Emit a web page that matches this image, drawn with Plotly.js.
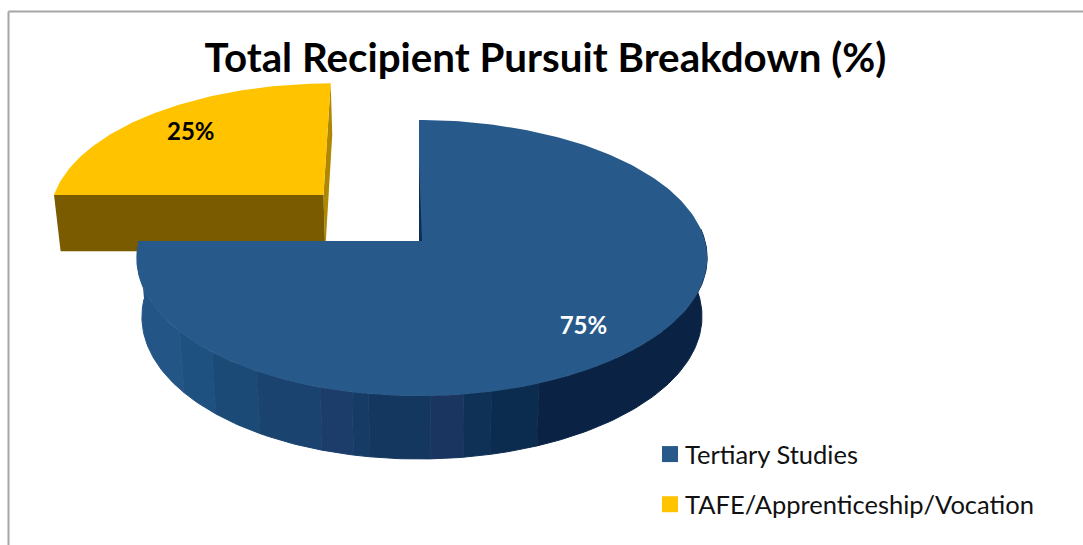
<!DOCTYPE html>
<html><head><meta charset="utf-8">
<script src="https://cdn.plot.ly/plotly-3.0.1.min.js"></script>
<style>html,body{margin:0;padding:0;background:#fff;overflow:hidden}#c{width:1083px;height:545px}</style>
</head><body><div id="c"></div>
<script>
const chartTitle = 'Total Recipient Pursuit Breakdown (%)';
const categories = ['Tertiary Studies', 'TAFE/Apprenticeship/Vocation'];
const shares = [75, 25];
const pull = [0, 0.5];
const drift = [0, 0.012];
const topColors = ['#275A8A', '#FFC300'];
const labelColors = ['#FFFFFF', '#000000'];
const labelRadius = [0.8, 0.75];
const labelTurn = [3, -1];

// side-wall shading of the large slice (angle breaks in degrees clockwise from 12 o'clock)
const wallBreaks = [270, 232, 222, 211, 198, 192, 189, 178, 172, 167, 158, 85];
const wallColors = ['#245587','#1E5080','#1B4A76','#1A436F','#1C3D6A','#163C65','#14375F','#193560','#0F3155','#0C2C4F','#0A2345'];

// projection of the pie disc on the page (perspective view)
const X0 = 419, Y0 = 241, A = 283, C = 3, B = 135.9, K = 0.1232;
const DEPTH = 58, DEPTH_V = 5, LOWER = 0.982;

function project(u, v) {
  const w = 1 - K * v;
  return [X0 + (A * u + C * u * u) / w, Y0 + B * v / w];
}
function lower(u, v) {
  const p = project(u, v);
  return [X0 + LOWER * (p[0] - X0), p[1] + DEPTH + DEPTH_V * v];
}
const rad = d => d * Math.PI / 180;
function disc(deg, r, d) {
  const t = rad(deg), m = rad(d.mid);
  return [r * Math.sin(t) + d.p * Math.sin(m) - d.s * r, -r * Math.cos(t) - d.p * Math.cos(m)];
}
function arc(a0, a1, d, fn) {
  const n = Math.max(2, Math.ceil(Math.abs(a1 - a0))), out = [];
  for (let i = 0; i <= n; i++) {
    const uv = disc(a0 + (a1 - a0) * i / n, 1, d);
    out.push(fn(uv[0], uv[1]));
  }
  return out;
}
function poly(pts, color, lw) {
  return {type:'scatter', mode:'lines', x:pts.map(p=>p[0]), y:pts.map(p=>p[1]), fill:'toself',
    fillcolor:color, line:{color:color, width:lw||0}, hoverinfo:'skip', showlegend:false};
}

// slice extents from the values
const total = shares.reduce((a,b)=>a+b,0);
let acc = 0;
const slices = shares.map((s,i)=>{
  const a0 = acc/total*360; acc += s; const a1 = acc/total*360;
  return {a0, a1, mid:(a0+a1)/2, p:pull[i], s:drift[i]};
});

const traces = [];
// pulled slice: its two cut faces, then its top
const y = slices[1];
{
  const c = disc(0,0,y);
  const l = disc(y.a0,1,y), r = disc(y.a1,1,y);
  traces.push(poly([project(...r),lower(...r),lower(...c),project(...c)], '#B08700'));
  traces.push(poly([project(...l),lower(...l),lower(...c),project(...c)], '#7A5B00'));
  traces.push(poly([project(...c), ...arc(y.a0,y.a1,y,project)], topColors[1]));
}
// large slice: shaded outer wall, then top, then thin cut-face sliver
const b = slices[0];
for (let i = 0; i < wallColors.length; i++) {
  const a0 = wallBreaks[i], a1 = wallBreaks[i+1];
  traces.push(poly([...arc(a0,a1,b,project), ...arc(a1,a0,b,lower)], wallColors[i], 1));
}
{
  const c = disc(0,0,b);
  traces.push(poly([project(...c), ...arc(b.a0,b.a1,b,project)], topColors[0]));
  const s = project(...disc(b.a0,0.62,b)), a = project(...c);
  traces.push(poly([s,a,[a[0]+3,a[1]],s], '#0E2F55'));
}
// data labels
slices.forEach((d,i)=>{
  const uv = disc(d.mid + labelTurn[i], labelRadius[i], d), p = project(uv[0], uv[1]);
  traces.push({type:'scatter', mode:'text', x:[p[0]], y:[p[1]], text:[shares[i]+'%'],
    textposition:'middle center', textfont:{family:'Lato, "Open Sans", sans-serif', size:24, color:labelColors[i], weight:700},
    hoverinfo:'skip', showlegend:false});
});
// legend entries
categories.forEach((c,i)=>{
  traces.push({type:'scatter', mode:'markers', x:[null], y:[null], name:c, legendgroup:c,
    marker:{symbol:'square', size:16, color:topColors[i]}, hoverinfo:'skip'});
});

const layout = {
  width:1083, height:545, margin:{l:0,r:0,t:0,b:0}, paper_bgcolor:'#fff', plot_bgcolor:'#fff',
  title:{text:'<b>'+chartTitle+'</b>', x:545.5/1083, xanchor:'center', y:1-58/545, yanchor:'middle',
         font:{family:'Lato, "Open Sans", sans-serif', size:40.3, color:'#000'}},
  xaxis:{range:[0,1083], visible:false, fixedrange:true},
  yaxis:{range:[545,0], visible:false, fixedrange:true},
  showlegend:true,
  legend:{x:645/1083, y:1-431/545, xanchor:'left', yanchor:'top', bgcolor:'rgba(0,0,0,0)', borderwidth:0,
          font:{family:'Lato, "Open Sans", sans-serif', size:25.5, color:'#111'}, traceorder:'grouped', tracegroupgap:14, itemsizing:'trace'},
  shapes:[{type:'line', xref:'paper', yref:'paper', x0:8.5/1083, x1:1, y0:1-11.5/545, y1:1-11.5/545, line:{color:'#A6A6A6', width:2}},
          {type:'line', xref:'paper', yref:'paper', x0:8.5/1083, x1:8.5/1083, y0:0, y1:1-11.5/545, line:{color:'#A6A6A6', width:2}}]
};
Plotly.newPlot('c', traces, layout, {staticPlot:true, displayModeBar:false}).then(()=>{
  // Calibri-style tighter gap between legend swatch and its text
  document.querySelectorAll('.legendsymbols').forEach(g=>g.setAttribute('transform','translate(5,0)'));
});
</script></body></html>
